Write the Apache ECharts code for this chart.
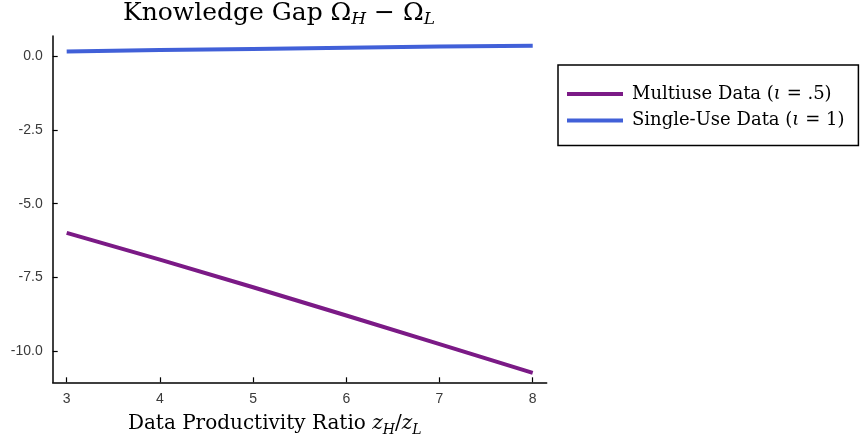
<!DOCTYPE html>
<html>
<head>
<meta charset="utf-8">
<script src="https://cdn.jsdelivr.net/npm/echarts@6/dist/echarts.min.js"></script>
<style>
html,body{margin:0;padding:0;background:#fff;}
#chart{width:860px;height:439px;}
</style>
</head>
<body>
<div id="chart"></div>
<script>
// Data
const xValues = [3, 4, 5, 6, 7, 8];
const multiuse = [-5.99, -6.90, -7.84, -8.80, -9.77, -10.75];
const singleUse = [0.17, 0.22, 0.26, 0.30, 0.34, 0.37];
const xTicks = [3, 4, 5, 6, 7, 8];
const yTicks = [0, -2.5, -5, -7.5, -10];
const seriesNames = ['Multiuse Data (ι = .5)', 'Single-Use Data (ι = 1)'];

const serif = '"DejaVu Serif", "Liberation Serif", serif';
const sans = '"Liberation Sans", Arial, sans-serif';

const chart = echarts.init(document.getElementById('chart'), null, {renderer: 'canvas'});

const legendFmt = function (name) {
  if (name === seriesNames[0]) return 'Multiuse Data ({it|ι} = .5)';
  return 'Single-Use Data ({it|ι} = 1)';
};

chart.setOption({
  animation: false,
  backgroundColor: '#ffffff',
  title: {
    text: 'Knowledge Gap Ω{sub|H} − Ω{sub|L}',
    left: 123,
    top: -2,
    padding: 0,
    textStyle: {
      fontFamily: serif,
      fontSize: 25,
      fontWeight: 'normal',
      color: '#000',
      lineHeight: 30,
      rich: {
        sub: {fontFamily: serif, fontStyle: 'italic', fontSize: 17, lineHeight: 12, verticalAlign: 'bottom', color: '#000'}
      }
    }
  },
  grid: {left: 52.7, right: 313.3, top: 36, bottom: 56.7, containLabel: false, outerBoundsMode: 'none'},
  legend: {
    orient: 'vertical',
    left: 558,
    top: 65,
    data: seriesNames,
    icon: 'rect',
    itemWidth: 56,
    itemHeight: 4,
    itemGap: 6.6,
    padding: [19, 14, 15, 9],
    borderColor: '#000',
    borderWidth: 1.5,
    borderRadius: 0,
    formatter: legendFmt,
    textStyle: {
      fontFamily: serif,
      fontSize: 18,
      color: '#000',
      padding: [0, 0, 0, 4],
      lineHeight: 20,
      rich: {
        it: {fontFamily: serif, fontStyle: 'italic', fontSize: 18, color: '#000'}
      }
    }
  },
  xAxis: {
    type: 'value',
    min: 2.85,
    max: 8.15,
    name: 'Data Productivity Ratio {it|z}{sub|H}/{it|z}{sub|L}',
    nameLocation: 'middle',
    nameGap: 17,
    nameTextStyle: {
      fontFamily: serif,
      fontSize: 20,
      color: '#000',
      lineHeight: 26,
      padding: [0, 50, 0, 0],
      rich: {
        it: {fontFamily: serif, fontStyle: 'italic', fontSize: 20, color: '#000', lineHeight: 26},
        sub: {fontFamily: serif, fontStyle: 'italic', fontSize: 14, color: '#000', lineHeight: 10, verticalAlign: 'bottom'}
      }
    },
    axisLine: {show: true, onZero: false, lineStyle: {color: '#000', width: 1.5}},
    axisTick: {show: true, inside: true, length: 5, customValues: xTicks, lineStyle: {color: '#000', width: 1.2}},
    axisLabel: {show: true, customValues: xTicks, margin: 10, fontFamily: sans, fontSize: 14, color: '#3a3a3a', formatter: v => String(v)},
    splitLine: {show: false}
  },
  yAxis: {
    type: 'value',
    min: -11.07,
    max: 0.70,
    axisLine: {show: true, onZero: false, lineStyle: {color: '#000', width: 1.5}},
    axisTick: {show: true, inside: true, length: 5, customValues: yTicks, lineStyle: {color: '#000', width: 1.2}},
    axisLabel: {show: true, customValues: yTicks, margin: 10, fontFamily: sans, fontSize: 14, color: '#3a3a3a', formatter: v => v.toFixed(1)},
    splitLine: {show: false}
  },
  series: [
    {
      name: seriesNames[0],
      type: 'line',
      data: xValues.map((x, i) => [x, multiuse[i]]),
      showSymbol: false,
      symbol: 'none',
      lineStyle: {color: '#7b1a86', width: 4},
      itemStyle: {color: '#7b1a86'}
    },
    {
      name: seriesNames[1],
      type: 'line',
      data: xValues.map((x, i) => [x, singleUse[i]]),
      showSymbol: false,
      symbol: 'none',
      lineStyle: {color: '#4160d8', width: 4},
      itemStyle: {color: '#4160d8'}
    }
  ]
});
</script>
</body>
</html>
